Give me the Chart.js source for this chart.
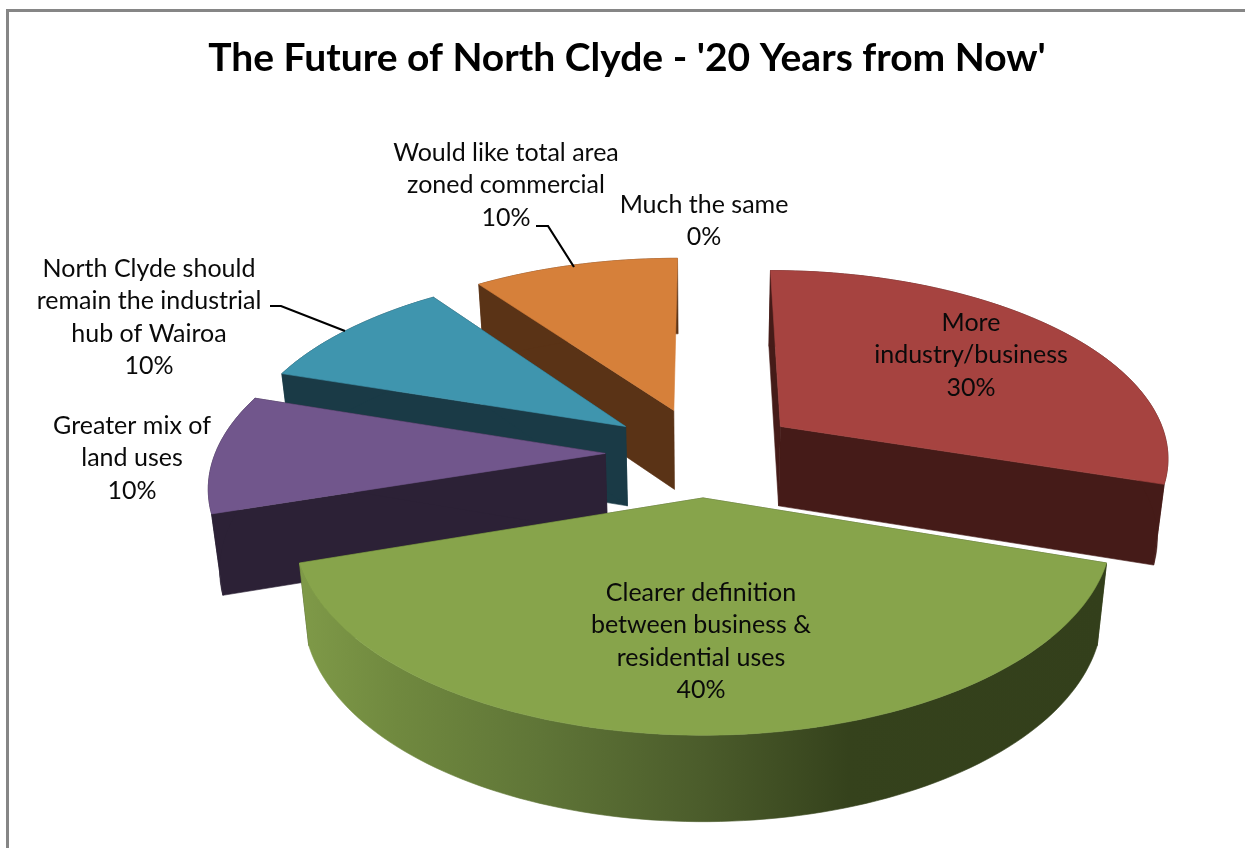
<!DOCTYPE html>
<html>
<head>
<meta charset="utf-8">
<title>The Future of North Clyde</title>
<script src="https://cdn.jsdelivr.net/npm/chart.js@4"></script>
<style>
  html, body { margin: 0; background: #fff; overflow: hidden; }
  #frame { position: absolute; left: 6px; top: 9px; width: 1239px; height: 839px;
           border-top: 3px solid #868686; border-left: 3px solid #868686; box-sizing: border-box; }
  canvas { display: block; }
</style>
</head>
<body>
<div id="frame"><canvas id="pie" width="1236" height="836"></canvas></div>
<script>
var categories = [
    "Much the same",
    "More industry/business",
    "Clearer definition between business & residential uses",
    "Greater mix of land uses",
    "North Clyde should remain the industrial hub of Wairoa",
    "Would like total area zoned commercial"
];
var shares = [0, 30, 40, 10, 10, 10];
var topColors = ["#4f81bd", "#a64340", "#87a44b", "#71568c", "#3f95ae", "#d6803a"];
var wallColors = ["#27405e", "#451b18", "#3a471f", "#2c2136", "#1a3a46", "#5a3316"];
var explode = [391, 391, 359, 391, 391, 391];

// wrapped label text, same order as categories
var labelLines = [
    ["Much the same"],
    ["More", "industry/business"],
    ["Clearer definition", "between business &", "residential uses"],
    ["Greater mix of", "land uses"],
    ["North Clyde should", "remain the industrial", "hub of Wairoa"],
    ["Would like total area", "zoned commercial"]
];
// label centre (first line) on the canvas
var labelX = [695, 962, 692, 123, 140, 497];
var labelY = [193, 311, 581, 414, 257, 141];
// elbow leader lines, canvas coordinates
var leaders = [
    [[527, 214], [539, 214], [565, 255]],
    [[261, 294], [272, 294], [336, 319]]
];

// stops for the shaded outer wall of the big slice (page x fraction, colour)
var wallShade = [
    [0.00, "#7f9a48"], [0.12, "#70893f"], [0.30, "#5f7537"],
    [0.50, "#4b5c2b"], [0.68, "#35421c"], [1.00, "#333f1b"]
];

var view = {
    shiftX: 76,       // pie sits right of the title centre
    tilt: 0.479,      // vertical squash of the pie plane
    pull: 0.15,       // perspective strength
    drop: 80,         // wall height in px
    dropGrow: 0.023,  // wall gets taller toward the viewer
    narrow: 0.977     // bottom face is a little narrower
};

function project(el, u, v) {
    var den = 1 - view.pull * v / el.outerRadius;
    return { x: el.x + view.shiftX + u / den, y: el.y + view.tilt * v / den };
}

function lower(el, p) {
    var cx = el.x + view.shiftX;
    return {
        x: cx + (p.x - cx) * view.narrow,
        y: p.y + view.drop + (p.y - el.y) * view.dropGrow
    };
}

function fillPoly(ctx, pts, fill) {
    ctx.beginPath();
    pts.forEach(function (p, i) {
        if (i === 0) ctx.moveTo(p.x, p.y);
        else ctx.lineTo(p.x, p.y);
    });
    ctx.closePath();
    ctx.fillStyle = fill;
    ctx.strokeStyle = fill;
    ctx.lineWidth = 0.6;
    ctx.fill();
    ctx.stroke();
}

var pie3d = {
    id: 'pie3d',
    beforeDatasetDraw: function (chart) {
        var ctx = chart.ctx;
        var arcs = chart.getDatasetMeta(0).data;
        var order = arcs.map(function (a, i) { return i; }).filter(function (i) { return shares[i] > 0; });
        var midOf = function (a) { return (a.startAngle + a.endAngle) / 2; };
        order.sort(function (a, b) { return Math.sin(midOf(arcs[a])) - Math.sin(midOf(arcs[b])); });

        order.forEach(function (i) {
            var el = arcs[i];
            var mid = midOf(el);
            var shift = el.options.offset / 4;
            var ox = Math.cos(mid) * shift, oy = Math.sin(mid) * shift;
            var apex = project(el, ox, oy);
            var rim = [];
            var steps = Math.ceil((el.endAngle - el.startAngle) * 40);
            for (var s = 0; s <= steps; s++) {
                var t = el.startAngle + (el.endAngle - el.startAngle) * s / steps;
                rim.push(project(el, ox + Math.cos(t) * el.outerRadius, oy + Math.sin(t) * el.outerRadius));
            }
            var rimLow = rim.map(function (p) { return lower(el, p); });
            var apexLow = lower(el, apex);
            var wall = wallColors[i];
            if (i === 2) {
                wall = ctx.createLinearGradient(rim[rim.length - 1].x, 0, rim[0].x, 0);
                wallShade.forEach(function (st) { wall.addColorStop(st[0], st[1]); });
            }
            fillPoly(ctx, [apex, rim[0], rimLow[0], apexLow], wallColors[i]);
            // the orange slice's closing wall is edge-on in the original, leave it out
            if (i !== 5) {
                fillPoly(ctx, [apex, rim[rim.length - 1], rimLow[rimLow.length - 1], apexLow], wallColors[i]);
            }
            fillPoly(ctx, rim.concat(rimLow.slice().reverse()), wall);
            fillPoly(ctx, [apex].concat(rim), topColors[i]);
        });
        return false;
    },
    afterDatasetsDraw: function (chart) {
        var ctx = chart.ctx;
        ctx.save();
        ctx.strokeStyle = "#000";
        ctx.lineWidth = 2.2;
        leaders.forEach(function (l) {
            ctx.beginPath();
            l.forEach(function (p, i) {
                if (i === 0) ctx.moveTo(p[0], p[1]);
                else ctx.lineTo(p[0], p[1]);
            });
            ctx.stroke();
        });
        ctx.fillStyle = "#0a0a0a";
        ctx.font = "25px Lato";
        ctx.textAlign = "center";
        ctx.textBaseline = "middle";
        labelLines.forEach(function (lines, i) {
            lines.concat([shares[i] + "%"]).forEach(function (txt, n) {
                ctx.fillText(txt, labelX[i], labelY[i] + n * 32.3);
            });
        });
        ctx.restore();
    }
};

window.onload = function () {
    var ctx = document.getElementById('pie').getContext('2d');
    window.thePie = new Chart(ctx, {
        type: 'pie',
        data: {
            labels: categories,
            datasets: [{
                data: shares,
                backgroundColor: topColors,
                radius: 390,
                offset: explode,
                borderWidth: 0
            }]
        },
        options: {
            responsive: false,
            animation: false,
            events: [],
            rotation: 0,
            layout: { padding: { bottom: 33 } },
            plugins: {
                legend: { display: false },
                tooltip: { enabled: false },
                title: {
                    display: true,
                    text: "The Future of North Clyde - '20 Years from Now'",
                    color: "#000",
                    font: { family: "Lato", size: 39, weight: "bold" },
                    padding: { top: 23, bottom: 10 }
                }
            }
        },
        plugins: [pie3d]
    });
};
</script>
</body>
</html>
